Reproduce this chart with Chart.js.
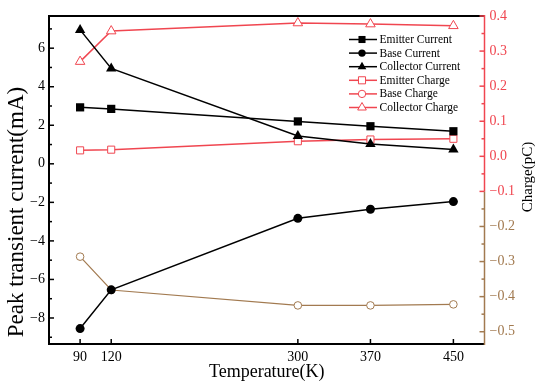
<!DOCTYPE html>
<html>
<head>
<meta charset="utf-8">
<script src="https://cdn.jsdelivr.net/npm/chart.js@4/dist/chart.umd.min.js"></script>
<style>
  html, body { margin: 0; padding: 0; background: #fff; }
  #wrap { width: 550px; height: 390px; position: relative; }
</style>
</head>
<body>
<div id="wrap"><canvas id="c" width="550" height="390"></canvas></div>
<script>
// ---- data ----
const temps = [90, 120, 300, 370, 450];
const emitterCurrent = [2.93, 2.85, 2.20, 1.95, 1.69];
const baseCurrent = [-8.55, -6.54, -2.83, -2.36, -1.96];
const collectorCurrent = [6.95, 4.95, 1.44, 1.03, 0.74];
const emitterCharge = [0.017, 0.019, 0.043, 0.048, 0.050];
const baseCharge = [-0.286, -0.381, -0.425, -0.425, -0.422];
const collectorCharge = [0.270, 0.357, 0.380, 0.377, 0.372];

const xTicks = [90, 120, 300, 370, 450];
const leftTicks = [-8, -6, -4, -2, 0, 2, 4, 6];
const leftMinorTicks = [-9, -7, -5, -3, -1, 1, 3, 5, 7];
const rightTicks = [0.4, 0.3, 0.2, 0.1, 0.0, -0.1, -0.2, -0.3, -0.4, -0.5];
const rightMinorTicks = [0.35, 0.25, 0.15, 0.05, -0.05, -0.15, -0.25, -0.35, -0.45];

const xTitle = 'Temperature(K)';
const leftTitle = 'Peak transient current(mA)';
const rightTitle = 'Charge(pC)';

// ---- styles ----
const BLACK = '#000000';
const RED = '#f04650';
const BROWN = '#a27a50';
const FONT = '"Liberation Serif", "Times New Roman", serif';

function pts(ys) { return temps.map((t, i) => ({ x: t, y: ys[i] })); }
function fmt(v, d) { const s = v.toFixed(d); return s.replace('-', '\u2212'); }

const datasets = [
  { label: 'Emitter Current', data: pts(emitterCurrent), yAxisID: 'y', borderColor: BLACK, backgroundColor: BLACK,
    pointStyle: 'rect', pointRadius: 5.8, borderWidth: 1.5, pointBorderWidth: 0, legendColor: BLACK, legendFill: true },
  { label: 'Base Current', data: pts(baseCurrent), yAxisID: 'y', borderColor: BLACK, backgroundColor: BLACK,
    pointStyle: 'circle', pointRadius: 4.5, borderWidth: 1.5, pointBorderWidth: 0, legendColor: BLACK, legendFill: true },
  { label: 'Collector Current', data: pts(collectorCurrent), yAxisID: 'y', borderColor: BLACK, backgroundColor: BLACK,
    pointStyle: 'triangle', pointRadius: 6, borderWidth: 1.5, pointBorderWidth: 0, legendColor: BLACK, legendFill: true },
  { label: 'Emitter Charge', data: pts(emitterCharge), yAxisID: 'y1', borderColor: RED, backgroundColor: '#fff',
    pointStyle: 'rect', pointRadius: 5, borderWidth: 1.5, pointBorderWidth: 1, legendColor: RED, legendFill: false },
  { label: 'Base Charge', data: pts(baseCharge), yAxisID: 'y1', borderColor: BROWN, backgroundColor: '#fff',
    pointStyle: 'circle', pointRadius: 3.8, borderWidth: 1.2, pointBorderWidth: 1, legendColor: RED, legendFill: false },
  { label: 'Collector Charge', data: pts(collectorCharge), yAxisID: 'y1', borderColor: RED, backgroundColor: '#fff',
    pointStyle: 'triangle', pointRadius: 5.5, borderWidth: 1.5, pointBorderWidth: 1, legendColor: RED, legendFill: false }
];
datasets.forEach(d => {
  d.pointBackgroundColor = d.backgroundColor;
  d.pointBorderColor = d.borderColor;
  d.pointHoverRadius = d.pointRadius;
  d.tension = 0;
  d.fill = false;
  d.clip = false;
});

function drawMarker(ctx, style, x, y, r, color, filled) {
  ctx.save();
  ctx.beginPath();
  if (style === 'rect') {
    const s = r * Math.SQRT1_2;
    ctx.rect(x - s, y - s, 2 * s, 2 * s);
  } else if (style === 'circle') {
    ctx.arc(x, y, r, 0, Math.PI * 2);
  } else if (style === 'triangle') {
    ctx.moveTo(x, y - r);
    ctx.lineTo(x + r * Math.sin(Math.PI * 2 / 3), y - r * Math.cos(Math.PI * 2 / 3));
    ctx.lineTo(x + r * Math.sin(Math.PI * 4 / 3), y - r * Math.cos(Math.PI * 4 / 3));
    ctx.closePath();
  }
  if (filled) { ctx.fillStyle = color; ctx.fill(); }
  else { ctx.fillStyle = '#fff'; ctx.fill(); ctx.strokeStyle = color; ctx.lineWidth = 1; ctx.stroke(); }
  ctx.restore();
}

function drawVerticalText(ctx, text, x, y, size) {
  ctx.save();
  ctx.translate(x, y);
  ctx.rotate(-Math.PI / 2);
  ctx.font = size + 'px ' + FONT;
  ctx.fillStyle = BLACK;
  ctx.textAlign = 'center';
  ctx.textBaseline = 'middle';
  ctx.fillText(text, 0, 0);
  ctx.restore();
}

const decor = {
  id: 'decor',
  afterDraw(chart) {
    const ctx = chart.ctx;
    const a = chart.chartArea;
    const yL = chart.scales.y, yR = chart.scales.y1, xs = chart.scales.x;
    ctx.save();
    // top frame line
    ctx.strokeStyle = BLACK; ctx.lineWidth = 2;
    ctx.beginPath(); ctx.moveTo(a.left - 1, a.top); ctx.lineTo(a.right, a.top); ctx.stroke();
    // right axis line, split red/brown
    const split = yR.getPixelForValue(-0.1);
    ctx.lineWidth = 1.5;
    ctx.strokeStyle = RED;
    ctx.beginPath(); ctx.moveTo(a.right, a.top - 1); ctx.lineTo(a.right, split); ctx.stroke();
    ctx.strokeStyle = BROWN;
    ctx.beginPath(); ctx.moveTo(a.right, split); ctx.lineTo(a.right, a.bottom + 1); ctx.stroke();
    // left ticks (inward)
    ctx.strokeStyle = BLACK; ctx.lineWidth = 1.5;
    leftTicks.forEach(v => { const p = yL.getPixelForValue(v); ctx.beginPath(); ctx.moveTo(a.left, p); ctx.lineTo(a.left + 5, p); ctx.stroke(); });
    leftMinorTicks.forEach(v => { const p = yL.getPixelForValue(v); ctx.beginPath(); ctx.moveTo(a.left, p); ctx.lineTo(a.left + 3, p); ctx.stroke(); });
    // bottom ticks
    xTicks.forEach(v => { const p = xs.getPixelForValue(v); ctx.beginPath(); ctx.moveTo(p, a.bottom); ctx.lineTo(p, a.bottom - 5); ctx.stroke(); });
    // right ticks
    ctx.lineWidth = 1.5;
    rightTicks.forEach(v => { const p = yR.getPixelForValue(v); ctx.strokeStyle = v >= -0.1 ? RED : BROWN; ctx.beginPath(); ctx.moveTo(a.right, p); ctx.lineTo(a.right - 5, p); ctx.stroke(); });
    rightMinorTicks.forEach(v => { const p = yR.getPixelForValue(v); ctx.strokeStyle = v >= -0.1 ? RED : BROWN; ctx.beginPath(); ctx.moveTo(a.right, p); ctx.lineTo(a.right - 3, p); ctx.stroke(); });
    // axis titles (both read bottom-to-top)
    drawVerticalText(ctx, leftTitle, 17, 212, 23);
    drawVerticalText(ctx, rightTitle, 528, 177, 15);
    // legend
    const lx0 = 349, lx1 = 377, mx = 362, tx = 379.5;
    ctx.font = '11.5px ' + FONT;
    ctx.textBaseline = 'middle';
    ctx.textAlign = 'left';
    chart.data.datasets.forEach((d, i) => {
      const ly = 39.5 + i * 13.6;
      ctx.strokeStyle = d.legendColor; ctx.lineWidth = 1.5;
      ctx.beginPath(); ctx.moveTo(lx0, ly); ctx.lineTo(lx1, ly); ctx.stroke();
      const r = d.pointStyle === 'rect' ? 5 : (d.pointStyle === 'circle' ? 3.7 : 5);
      drawMarker(ctx, d.pointStyle, mx, ly, r, d.legendColor, d.legendFill);
      ctx.fillStyle = BLACK;
      ctx.fillText(d.label, tx, ly + 0.5);
    });
    ctx.restore();
  }
};

new Chart(document.getElementById('c'), {
  type: 'line',
  data: { datasets },
  plugins: [decor],
  options: {
    responsive: false,
    animation: false,
    devicePixelRatio: 1,
    layout: { padding: { top: 16, left: 0, right: 0, bottom: 0 } },
    plugins: { legend: { display: false }, tooltip: { enabled: false } },
    scales: {
      x: {
        type: 'linear', min: 60, max: 480,
        grid: { display: false, drawTicks: false },
        border: { display: true, color: BLACK, width: 2 },
        afterBuildTicks: s => { s.ticks = xTicks.map(v => ({ value: v })); },
        afterFit: s => { s.height = 46; },
        ticks: { padding: 5, color: BLACK, font: { family: FONT, size: 14 }, maxRotation: 0, autoSkip: false,
                 callback: v => String(v) },
        title: { display: true, text: xTitle, color: BLACK, font: { family: FONT, size: 18 }, padding: { top: 0, bottom: 7 } }
      },
      y: {
        type: 'linear', position: 'left', min: -9.35, max: 7.67,
        grid: { display: false, drawTicks: false },
        border: { display: true, color: BLACK, width: 2 },
        afterBuildTicks: s => { s.ticks = leftTicks.map(v => ({ value: v })); },
        afterFit: s => { s.width = 49; },
        ticks: { padding: 4, color: BLACK, font: { family: FONT, size: 14 }, autoSkip: false,
                 callback: v => fmt(v, 0) },
        title: { display: false }
      },
      y1: {
        type: 'linear', position: 'right', min: -0.535, max: 0.4,
        grid: { display: false, drawTicks: false },
        border: { display: false },
        afterBuildTicks: s => { s.ticks = rightTicks.map(v => ({ value: v })); },
        afterFit: s => { s.width = 65.5; },
        ticks: { padding: 5, font: { family: FONT, size: 14 }, autoSkip: false,
                 color: c => (c.tick && c.tick.value >= -0.1001) ? RED : BROWN,
                 callback: v => fmt(v, 1) },
        title: { display: false }
      }
    }
  }
});
</script>
</body>
</html>
